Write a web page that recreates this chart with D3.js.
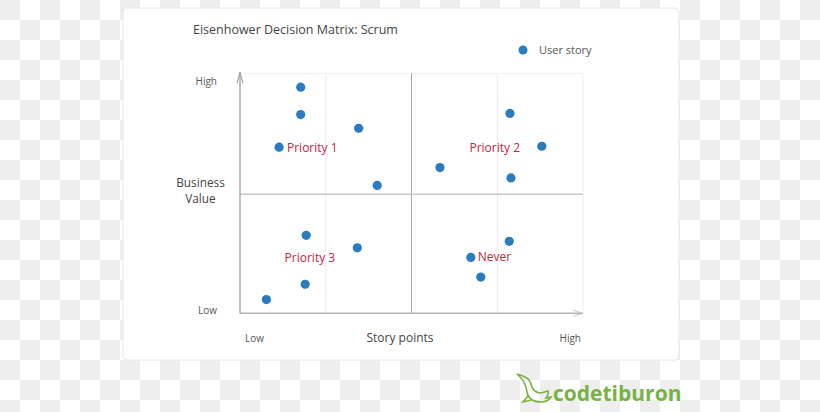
<!DOCTYPE html>
<html><head><meta charset="utf-8">
<script src="https://cdn.jsdelivr.net/npm/d3@7"></script>
<style>html,body{margin:0;padding:0;background:#fff;}svg{display:block;font-family:"Open Sans",sans-serif;}</style>
</head><body>
<svg id="c" width="820" height="412"></svg>
<script>
// ---- data ----
const chartTitle = "Eisenhower Decision Matrix: Scrum";
const seriesName = "User story";
const storyPoints = [1.77, 1.77, 3.46, 1.14, 4.00, 5.83, 7.87, 8.80, 7.90, 1.93, 3.42, 1.90, 0.77, 7.85, 6.73, 7.02];
const businessValue = [9.42, 8.28, 7.71, 6.92, 5.33, 6.07, 8.33, 6.96, 5.64, 3.25, 2.73, 1.21, 0.57, 3.00, 2.33, 1.51];
const quadrantLabels = ["Priority 1", "Priority 2", "Priority 3", "Never"];
const quadrantLabelX = [1.37, 6.69, 1.30, 6.93];
const quadrantLabelY = [6.89, 6.88, 2.32, 2.35];
const xTickLabels = ["Low", "High"];
const yTickLabels = ["Low", "High"];
const xAxisTitle = "Story points";
const yAxisTitle = ["Business", "Value"];
const gridX = [2.5, 7.5];
const brand = "codetiburon";

const svg = d3.select("#c");
// checkerboard background
const cells = [];
for (let j = 0; j < 21; j++) for (let i = 0; i < 41; i++) if ((i + j) % 2 === 0) cells.push([i, j]);
svg.append("rect").attr("width", 820).attr("height", 412).attr("fill", "#fff");
svg.append("g").selectAll("rect").data(cells).join("rect")
  .attr("x", d => d[0] * 20).attr("y", d => d[1] * 20).attr("width", 20).attr("height", 20).attr("fill", "#eeeeee");

// card
svg.append("rect").attr("x", 123).attr("y", 8).attr("width", 556).attr("height", 352).attr("rx", 4)
  .attr("fill", "#fff").attr("stroke", "#e6e6e6").attr("stroke-width", 1);

const x = d3.scaleLinear().domain([0, 10]).range([240, 583]);
const y = d3.scaleLinear().domain([0, 10]).range([313.3, 73.3]);

// faint grid
svg.append("g").selectAll("line").data(gridX).join("line")
  .attr("x1", d => x(d)).attr("x2", d => x(d)).attr("y1", y(10)).attr("y2", y(0))
  .attr("stroke", "#ececec").attr("stroke-width", 1);
svg.append("line").attr("x1", x(0)).attr("x2", x(10)).attr("y1", y(10)).attr("y2", y(10)).attr("stroke", "#f0f0f0");
svg.append("line").attr("x1", x(10)).attr("x2", x(10)).attr("y1", y(10)).attr("y2", y(0)).attr("stroke", "#f0f0f0");

// quadrant dividers
svg.append("line").attr("x1", x(5)).attr("x2", x(5)).attr("y1", y(10)).attr("y2", y(0)).attr("stroke", "#a8a8a8");
svg.append("line").attr("x1", x(0)).attr("x2", x(10)).attr("y1", y(5) + 0.8).attr("y2", y(5) + 0.8).attr("stroke", "#bdbdbd").attr("stroke-width", 1.3);

// axes with arrows
svg.append("line").attr("x1", x(0)).attr("x2", x(10)).attr("y1", y(0)).attr("y2", y(0)).attr("stroke", "#b5b5b5").attr("stroke-width", 1.5);
svg.append("path").attr("d", `M${x(10) - 10},${y(0) - 3}L${x(10)},${y(0)}L${x(10) - 10},${y(0) + 3}`)
  .attr("fill", "none").attr("stroke", "#c8c8c8");
svg.append("line").attr("x1", x(0)).attr("x2", x(0)).attr("y1", y(0)).attr("y2", y(10) - 1).attr("stroke", "#999").attr("stroke-width", 1.2);
svg.append("path").attr("d", `M${x(0) - 3},${y(10) + 10}L${x(0)},${y(10) - 1}L${x(0) + 3},${y(10) + 10}`)
  .attr("fill", "none").attr("stroke", "#999");

// tick labels
svg.append("g").selectAll("text").data(yTickLabels).join("text")
  .attr("x", 217).attr("y", (d, i) => i === 0 ? 314 : 85).attr("text-anchor", "end")
  .attr("font-size", 10).attr("fill", "#555").text(d => d);
svg.append("g").selectAll("text").data(xTickLabels).join("text")
  .attr("x", (d, i) => i === 0 ? 245 : 581).attr("y", 342).attr("text-anchor", (d, i) => i === 0 ? "start" : "end")
  .attr("font-size", 10).attr("fill", "#555").text(d => d);

// axis titles
svg.append("text").attr("x", 400).attr("y", 342).attr("text-anchor", "middle")
  .attr("font-size", 12).attr("fill", "#444").text(xAxisTitle);
svg.append("g").selectAll("text").data(yAxisTitle).join("text")
  .attr("x", 200.5).attr("y", (d, i) => 186.5 + i * 16).attr("text-anchor", "middle")
  .attr("font-size", 11.8).attr("fill", "#444").text(d => d);

// title
svg.append("text").attr("x", 193).attr("y", 34).attr("font-size", 12.5).attr("fill", "#444").text(chartTitle);

// legend
svg.append("circle").attr("cx", 523).attr("cy", 50).attr("r", 4.5).attr("fill", "#2a7cc1");
svg.append("text").attr("x", 539).attr("y", 54).attr("font-size", 11).attr("fill", "#555").text(seriesName);

// points
svg.append("g").selectAll("circle").data(storyPoints).join("circle")
  .attr("cx", d => x(d)).attr("cy", (d, i) => y(businessValue[i])).attr("r", 4.6).attr("fill", "#2a7cc1");

// quadrant labels
svg.append("g").selectAll("text").data(quadrantLabels).join("text")
  .attr("x", (d, i) => x(quadrantLabelX[i])).attr("y", (d, i) => y(quadrantLabelY[i]))
  .attr("dy", "0.35em").attr("font-size", 12).attr("fill", "#cc2143").text(d => d);

// brand logo
const lg = svg.append("g").attr("fill", "none").attr("stroke", "#78b243").attr("stroke-width", 1.6).attr("stroke-linecap", "round");
lg.append("path").attr("d", "M517,374 C522,378 526,384 527,392 C528,398 533,402 541,402 C546,402 549,400 551,397 L546,398 C548,395 549,393 548,391 L541,393 C535,393 532,389 531,384 C530,379 525,376 517,374 Z");
lg.append("path").attr("d", "M528,396 L523,402 L531,400");
svg.append("text").attr("x", 553).attr("y", 401).attr("font-size", 21).attr("font-weight", "bold")
  .attr("fill", "#78b243").text(brand);
</script>
</body></html>
